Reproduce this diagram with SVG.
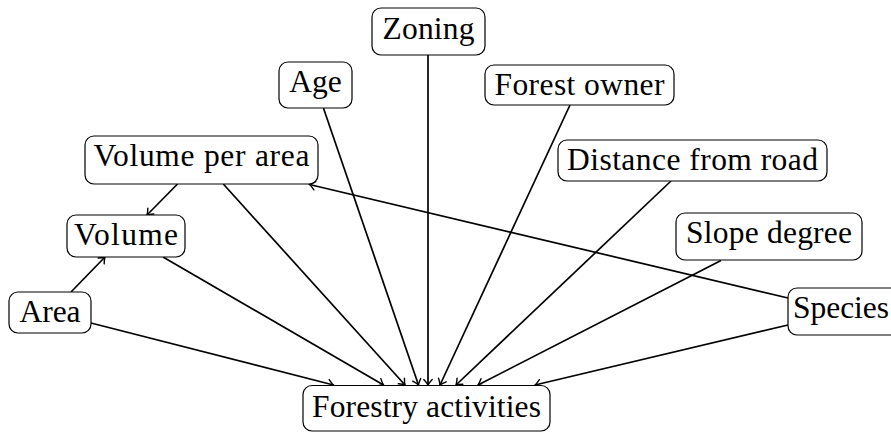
<svg xmlns="http://www.w3.org/2000/svg" width="891" height="432" viewBox="0 0 891 432">
  <style>
    .box { fill: #ffffff; stroke: #000000; stroke-width: 1.2; }
    .lbl { font-family: "Liberation Serif", "DejaVu Serif", serif; font-size: 31.5px; fill: #000000; text-anchor: middle; }
    .edge { fill: none; stroke: #000000; stroke-width: 1.7; marker-end: url(#tip); }
  </style>
  <defs>
    <marker id="tip" viewBox="-8 -6 10 12" markerWidth="10" markerHeight="12" refX="0" refY="0" orient="auto" markerUnits="userSpaceOnUse">
      <path d="M -5.5,-4.2 Q -1.8,-0.8 0,0 Q -1.8,0.8 -5.5,4.2" fill="none" stroke="#000000" stroke-width="1.4" stroke-linecap="round"/>
    </marker>
  </defs>

  <!-- connectors -->
  <g id="edges">
    <line class="edge" x1="91" y1="323" x2="333.5" y2="385"/>
    <line class="edge" x1="163" y1="257" x2="383.5" y2="385"/>
    <line class="edge" x1="223.3" y1="184" x2="405" y2="385"/>
    <line class="edge" x1="323.4" y1="108" x2="418.5" y2="385"/>
    <line class="edge" x1="428" y1="55" x2="428" y2="385"/>
    <line class="edge" x1="570" y1="105" x2="440" y2="385"/>
    <line class="edge" x1="671" y1="181" x2="456" y2="385"/>
    <line class="edge" x1="721" y1="260.5" x2="478" y2="385"/>
    <line class="edge" x1="788" y1="325" x2="535" y2="385"/>
    <line class="edge" x1="177.5" y1="184" x2="147" y2="215"/>
    <line class="edge" x1="71" y1="292" x2="105" y2="257"/>
    <line class="edge" x1="788" y1="298" x2="309.5" y2="184.5"/>
  </g>

  <!-- nodes -->
  <g id="zoning">
    <rect class="box" x="372" y="8" width="113" height="47" rx="9"/>
    <text class="lbl" x="428.5" y="38.5" textLength="92" lengthAdjust="spacing">Zoning</text>
  </g>
  <g id="age">
    <rect class="box" x="279" y="62" width="73" height="46" rx="9"/>
    <text class="lbl" x="315.5" y="92">Age</text>
  </g>
  <g id="forest-owner">
    <rect class="box" x="485" y="65" width="189" height="40" rx="9"/>
    <text class="lbl" x="579.5" y="95" textLength="170" lengthAdjust="spacing">Forest owner</text>
  </g>
  <g id="volume-per-area">
    <rect class="box" x="85" y="136" width="233" height="48" rx="9"/>
    <text class="lbl" x="201.5" y="165.5" textLength="216" lengthAdjust="spacing">Volume per area</text>
  </g>
  <g id="distance-from-road">
    <rect class="box" x="558" y="140" width="269" height="41" rx="9"/>
    <text class="lbl" x="692.5" y="170" textLength="251" lengthAdjust="spacing">Distance from road</text>
  </g>
  <g id="volume">
    <rect class="box" x="67" y="215" width="118" height="42" rx="9"/>
    <text class="lbl" x="126" y="245" textLength="104" lengthAdjust="spacing">Volume</text>
  </g>
  <g id="slope-degree">
    <rect class="box" x="676" y="213" width="186" height="47" rx="9"/>
    <text class="lbl" x="769" y="242.5" textLength="166" lengthAdjust="spacing">Slope degree</text>
  </g>
  <g id="area">
    <rect class="box" x="9" y="292" width="82" height="41" rx="9"/>
    <text class="lbl" x="50" y="322">Area</text>
  </g>
  <g id="species">
    <rect class="box" x="788" y="288" width="116" height="47" rx="9"/>
    <text class="lbl" x="841" y="317.5">Species</text>
  </g>
  <g id="forestry-activities">
    <rect class="box" x="303" y="385.5" width="247" height="45.5" rx="9"/>
    <text class="lbl" x="426.5" y="416.5" textLength="229" lengthAdjust="spacing">Forestry activities</text>
  </g>
</svg>
